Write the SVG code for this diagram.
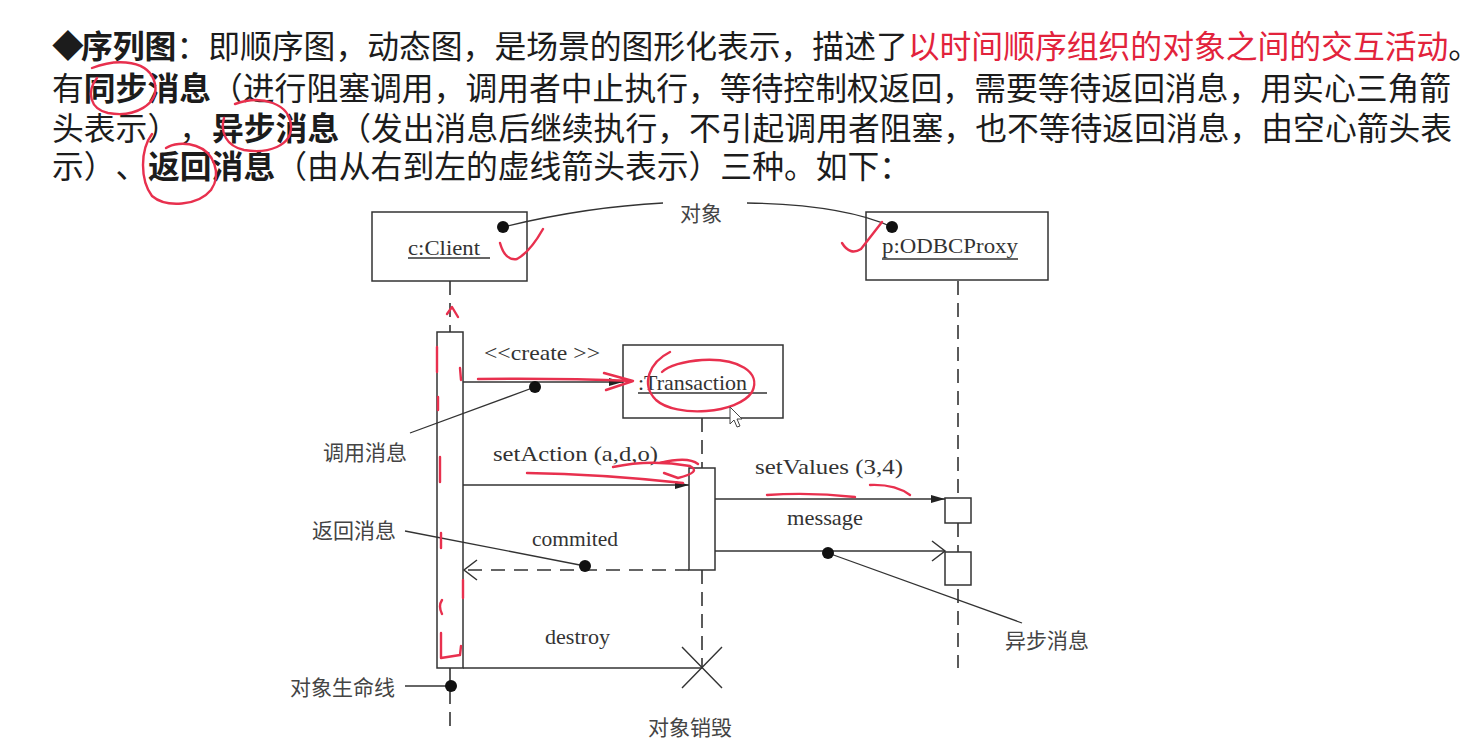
<svg xmlns="http://www.w3.org/2000/svg" width="1482" height="756" viewBox="0 0 1482 756">
  <style>
    .para { font-family: "Noto Sans CJK SC", "Noto Sans", sans-serif; font-size: 31.8px; fill: #1c1c1c; text-spacing-trim: space-all; font-feature-settings: "chws" 0, "halt" 0; }
    .b { font-weight: bold; }
    .red { fill: #e2233c; }
    .lbl { font-family: "Liberation Serif", "Noto Sans CJK SC", serif; font-size: 21px; fill: #333; }
    .cjk { font-family: "Noto Sans CJK SC", sans-serif; font-size: 21px; fill: #444; }
    .box { fill: #fff; stroke: #333; stroke-width: 1.5; }
    .life { fill: none; stroke: #333; stroke-width: 1.6; stroke-dasharray: 14 8; }
    .msg { fill: none; stroke: #333; stroke-width: 1.4; }
    .ret { fill: none; stroke: #333; stroke-width: 1.6; stroke-dasharray: 14 9; }
    .lead { fill: none; stroke: #333; stroke-width: 1.3; }
    .dot { fill: #111; }
    .ul { stroke: #333; stroke-width: 1.3; }
    .ink { fill: none; stroke: #e8304e; stroke-width: 2.4; stroke-linecap: round; stroke-linejoin: round; }
  </style>
  <defs>
    <marker id="solid" markerUnits="userSpaceOnUse" markerWidth="16" markerHeight="10" refX="14" refY="5" orient="auto">
      <path d="M0,1 L14,5 L0,9 z" fill="#222"/>
    </marker>
    <marker id="open" markerUnits="userSpaceOnUse" markerWidth="16" markerHeight="24" refX="14" refY="11" orient="auto">
      <path d="M1,1 L14,11 L1,21" fill="none" stroke="#333" stroke-width="1.5"/>
    </marker>
  </defs>

  <rect width="1482" height="756" fill="#fff"/>

  <!-- explanatory paragraph -->
  <g id="intro" class="para">
    <text x="52" y="58">◆<tspan class="b" x="81">序列图</tspan>：即顺序图，动态图，是场景的图形化表示，描述了<tspan class="red">以时间顺序组织的对象之间的交互活动</tspan>。</text>
    <text x="52" y="100">有<tspan class="b">同步消息</tspan>（进行阻塞调用，调用者中止执行，等待控制权返回，需要等待返回消息，用实心三角箭</text>
    <text x="52" y="140">头表示），<tspan class="b" x="212">异步消息</tspan>（发出消息后继续执行，不引起调用者阻塞，也不等待返回消息，由空心箭头表</text>
    <text x="52" y="178">示）、<tspan class="b" x="148">返回消息</tspan>（由从右到左的虚线箭头表示）三种。如下：</text>
  </g>

  <!-- lifelines -->
  <g id="lifelines">
    <path class="life" d="M450,281 V332 M450,668 V730"/>
    <path class="life" d="M702,418 V468 M702,570 V668"/>
    <path class="life" d="M958,281 V668"/>
  </g>

  <!-- objects -->
  <g id="client">
    <rect class="box" x="372" y="212" width="155" height="69"/>
    <text class="lbl" x="408" y="255" textLength="72" lengthAdjust="spacingAndGlyphs">c:Client</text>
    <line class="ul" x1="408" y1="258" x2="490" y2="258"/>
  </g>
  <g id="proxy">
    <rect class="box" x="866" y="212" width="182" height="68"/>
    <text class="lbl" x="882" y="253" textLength="136" lengthAdjust="spacingAndGlyphs">p:ODBCProxy</text>
    <line class="ul" x1="882" y1="259" x2="1018" y2="259"/>
  </g>
  <g id="transaction">
    <rect class="box" x="623" y="345" width="160" height="73"/>
    <text class="lbl" x="638" y="390" textLength="109" lengthAdjust="spacingAndGlyphs">:Transaction</text>
    <line class="ul" x1="638" y1="393" x2="767" y2="393"/>
  </g>

  <!-- activations -->
  <g id="client-activation">
    <rect class="box" x="437" y="332" width="26" height="336"/>
  </g>
  <g id="transaction-activation">
    <rect class="box" x="689" y="468" width="26" height="102"/>
  </g>
  <g id="proxy-activation-1">
    <rect class="box" x="945" y="498" width="26" height="25"/>
  </g>
  <g id="proxy-activation-2">
    <rect class="box" x="945" y="552" width="26" height="33"/>
  </g>

  <!-- destruction mark -->
  <g id="destroy-mark">
    <path class="msg" d="M682,647 L722,688 M722,647 L682,688" stroke-width="1.6"/>
  </g>

  <!-- messages -->
  <g id="connectors">
    <path class="msg" d="M463,382 H623" marker-end="url(#solid)"/>
    <path class="msg" d="M463,485 H689" marker-end="url(#solid)"/>
    <path class="msg" d="M715,499 H945" marker-end="url(#solid)"/>
    <path class="msg" d="M715,551 H945" marker-end="url(#open)"/>
    <path class="ret" d="M689,570 H464" marker-end="url(#open)"/>
    <path class="msg" d="M463,668 H702"/>
  </g>

  <!-- message labels -->
  <g id="message-labels" class="lbl">
    <text x="484" y="360" textLength="116" lengthAdjust="spacingAndGlyphs">&lt;&lt;create &gt;&gt;</text>
    <text x="493" y="461" textLength="165" lengthAdjust="spacingAndGlyphs">setAction (a,d,o)</text>
    <text x="755" y="474" textLength="148" lengthAdjust="spacingAndGlyphs">setValues (3,4)</text>
    <text x="787" y="525" textLength="76" lengthAdjust="spacingAndGlyphs">message</text>
    <text x="532" y="546" textLength="86" lengthAdjust="spacingAndGlyphs">commited</text>
    <text x="545" y="644" textLength="65" lengthAdjust="spacingAndGlyphs">destroy</text>
  </g>

  <!-- callouts -->
  <g id="note-object">
    <path class="lead" d="M503,227 Q585,207 663,203"/>
    <path class="lead" d="M747,203 C805,204 855,210 892,227"/>
    <circle class="dot" cx="503" cy="227" r="6"/>
    <circle class="dot" cx="892" cy="227" r="6"/>
    <text class="cjk" x="680" y="221">对象</text>
  </g>
  <g id="note-call">
    <path class="lead" d="M410,433 L535,387"/>
    <circle class="dot" cx="535" cy="387" r="6"/>
    <text class="cjk" x="323" y="460">调用消息</text>
  </g>
  <g id="note-return">
    <path class="lead" d="M405,531 L585,566"/>
    <circle class="dot" cx="585" cy="566" r="6"/>
    <text class="cjk" x="312" y="538">返回消息</text>
  </g>
  <g id="note-async">
    <path class="lead" d="M828,553 L1022,623"/>
    <circle class="dot" cx="828" cy="553" r="6"/>
    <text class="cjk" x="1005" y="648">异步消息</text>
  </g>
  <g id="note-lifeline">
    <path class="lead" d="M405,686 L450,686"/>
    <circle class="dot" cx="451" cy="686" r="6"/>
    <text class="cjk" x="290" y="695">对象生命线</text>
  </g>
  <g id="note-destroy">
    <text class="cjk" x="648" y="735">对象销毁</text>
  </g>

  <!-- hand-drawn pen marks -->
  <g id="pen-marks" class="ink">
    <path d="M92,68 C118,58 150,60 155,84 C159,104 135,118 108,113 C90,109 86,92 97,78"/>
    <path d="M235,104 C262,94 290,104 291,126 C292,146 268,154 244,150 C226,146 220,132 224,118"/>
    <path d="M152,134 C140,150 140,180 152,196 C166,208 198,206 211,190 C222,174 214,152 196,146 C184,142 172,144 166,148"/>
    <path d="M500,243 Q505,261 517,259 Q530,252 543,229"/>
    <path d="M842,243 Q850,256 861,249 L882,222"/>
    <path d="M447,314 L452,307 L458,317"/>
    <path d="M437,347 L437,372 M438,397 L438,410 M440,457 L440,482 M441,533 L441,548 M442,600 Q438,606 442,614"/>
    <path d="M460,368 L461,380 M463,580 L463,598"/>
    <path d="M441,633 L441,658 L460,655 L461,646"/>
    <path d="M478,379 Q560,378 633,381 M604,373 L633,381 L606,390"/>
    <path d="M670,352 C650,362 640,384 656,400 C676,418 738,414 752,392 C762,372 738,358 702,360 C684,361 668,366 662,372"/>
    <path d="M527,473 Q600,474 683,483"/>
    <path d="M613,467 Q650,459 690,466 Q702,472 678,478 L664,473 M660,463 Q688,456 698,464"/>
    <path d="M767,495 Q810,492 855,497"/>
    <path d="M870,485 Q895,484 910,495"/>
  </g>

  <!-- mouse pointer -->
  <g id="pointer">
    <path d="M730,407 L730,424 L734,420 L737,427 L740,426 L737,419 L742,419 Z" fill="#fff" stroke="#444" stroke-width="1"/>
  </g>
</svg>
